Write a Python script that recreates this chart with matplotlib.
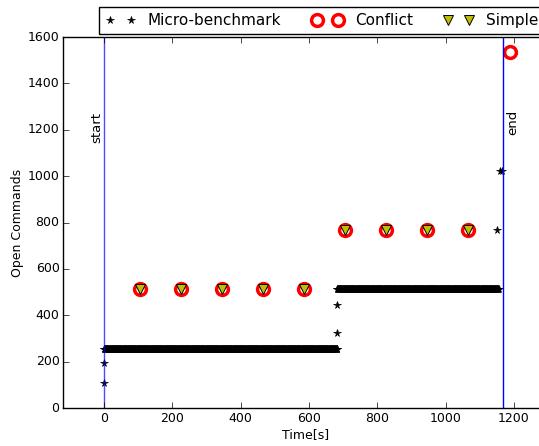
import numpy as np
import matplotlib
matplotlib.use('Agg')
import matplotlib.pyplot as plt

plt.style.use('classic')

# Micro-benchmark: single samples plus the two long plateaus (one sample per second)
micro_x = [0, 0, 681, 683, 1150, 1158, 1164]
micro_y = [108, 196, 323, 444, 768, 1024, 1024]
plateaus = [(0, 683, 256), (682, 1155, 512)]   # (start[s], end[s], open commands)

conflict_x = [105, 225, 345, 465, 585, 705, 825, 945, 1065, 1188]
conflict_y = [512, 512, 512, 512, 512, 768, 768, 768, 768, 1536]

simple_x = [105, 225, 345, 465, 585, 705, 825, 945, 1065]
simple_y = [512, 512, 512, 512, 512, 768, 768, 768, 768]

start_t = 0
end_t = 1168

px, py = list(micro_x), list(micro_y)
for a, b, lvl in plateaus:
    t = np.arange(a, b + 1)
    px += list(t)
    py += [lvl] * len(t)

fig = plt.figure(figsize=(5.39, 4.46), dpi=100, facecolor='white')
ax = fig.add_axes([0.117, 0.085, 0.9, 0.832])

ax.plot(px, py, 'k*', markersize=5.5, markeredgewidth=0.5, label='Micro-benchmark')
ax.plot(conflict_x, conflict_y, 'o', markerfacecolor='none', markeredgecolor='r',
        markeredgewidth=2.5, markersize=8.5, label='Conflict')
ax.plot(simple_x, simple_y, 'v', color='y', markeredgecolor='k', markeredgewidth=0.7,
        markersize=7, label='Simple')

ax.axvline(start_t, color='b', linewidth=1, alpha=0.7)
ax.axvline(end_t, color='b', linewidth=1)
ax.text(start_t - 22, 1210, 'start', rotation=90, ha='center', va='center', fontsize=9.5)
ax.text(end_t + 27, 1230, 'end', rotation=90, ha='center', va='center', fontsize=9.5)

ax.set_xlim(-120, 1300)
ax.set_ylim(0, 1600)
ax.set_xticks(range(0, 1201, 200))
ax.set_yticks(range(0, 1601, 200))
ax.tick_params(labelsize=9, pad=2.5)
ax.set_xlabel('Time[s]', fontsize=9, labelpad=2.5)
ax.set_ylabel('Open Commands', fontsize=9, labelpad=3)

fig.legend(loc='lower left', bbox_to_anchor=(99 / 539, (446 - 34) / 446), ncol=3,
           numpoints=2, fontsize=11, borderaxespad=0, frameon=True, fancybox=False)

fig.savefig('out.png', dpi=100, facecolor='white')
